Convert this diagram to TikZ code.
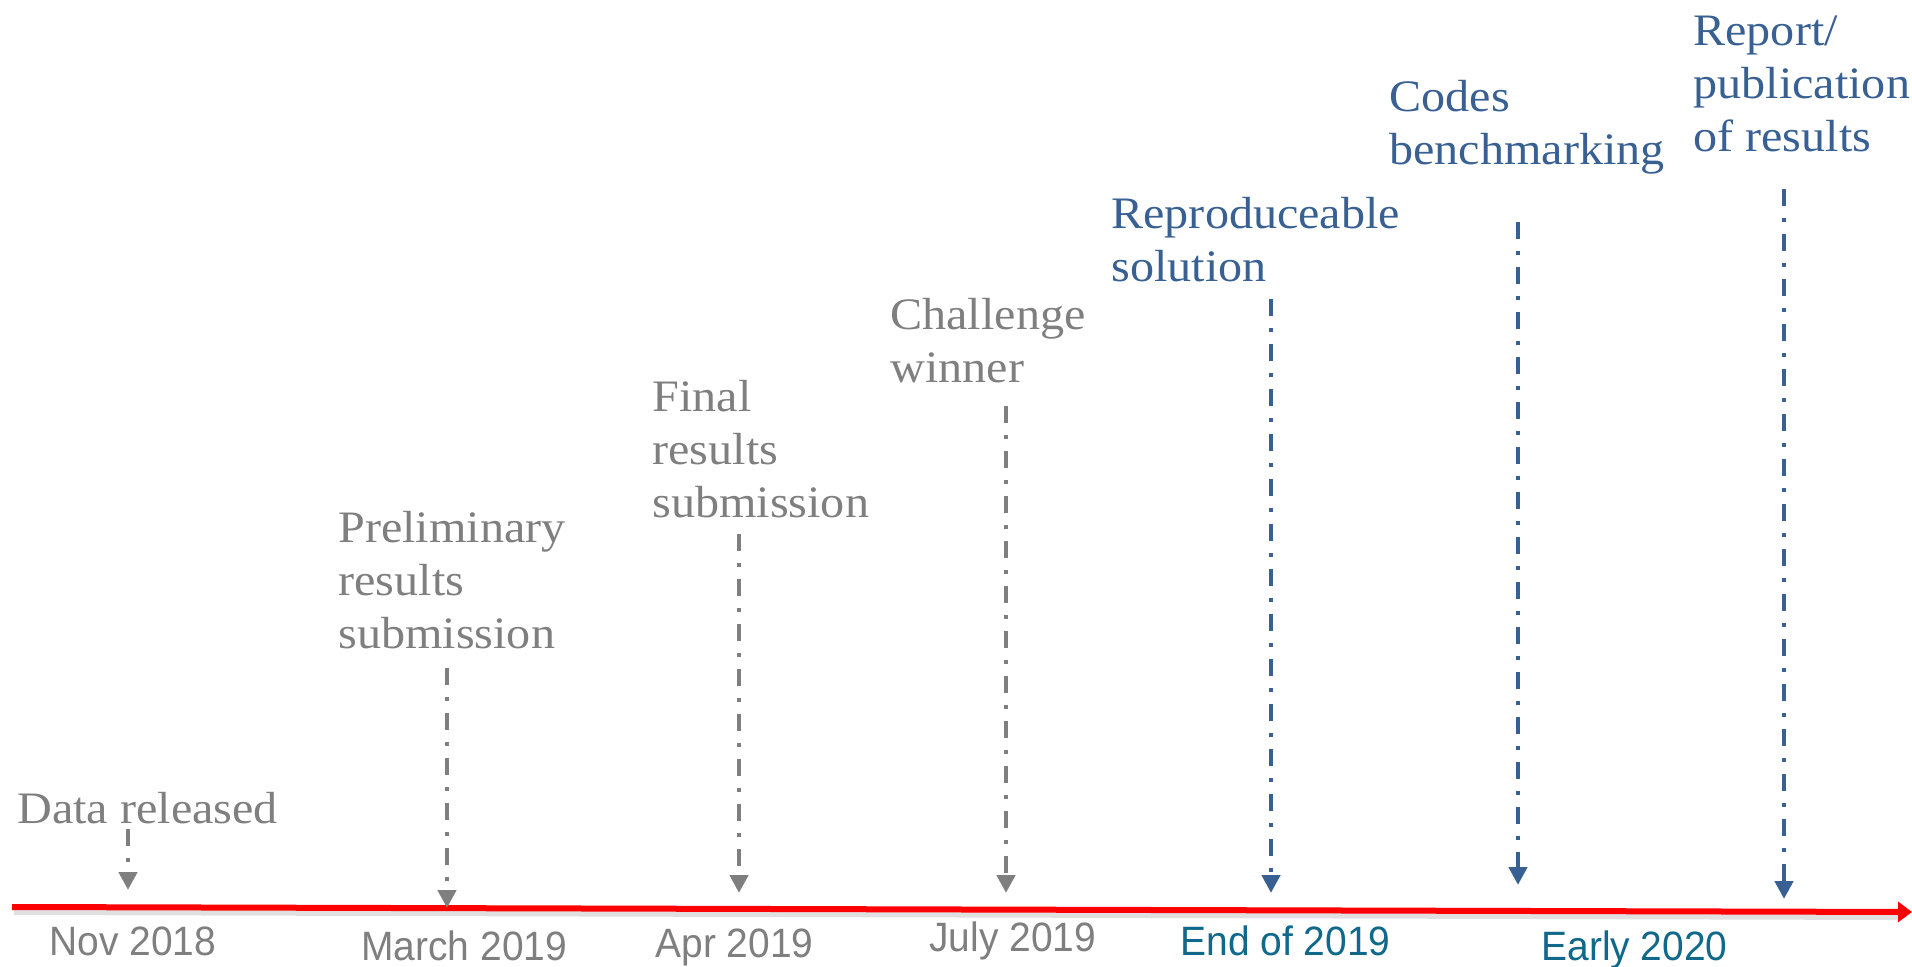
\documentclass[tikz,border=0pt]{standalone}
\usepackage{fontspec}
\setmainfont{Liberation Serif}
\newfontfamily\eventfont[FakeStretch=1.07]{Liberation Serif}
\newfontfamily\datefont[FakeStretch=0.95]{Liberation Sans}
\usetikzlibrary{arrows.meta}

\definecolor{milegrey}{RGB}{127,127,127}
\definecolor{mileblue}{RGB}{56,96,146}
\definecolor{dateteal}{RGB}{16,104,138}
\definecolor{axisred}{RGB}{255,0,0}

\begin{document}
\begin{tikzpicture}[x=0.5pt,y=-0.5pt,
  % multi-line labels are placed by the baseline of their last line
  event/.style={font=\eventfont\fontsize{22.5}{26.5}\selectfont, align=left,
                anchor=base west, inner sep=0pt},
  date/.style={font=\datefont\fontsize{20.5}{24}\selectfont,
               anchor=base west, inner sep=0pt},
  marker/.style={line width=2.4pt, dash pattern=on 8.5pt off 6.2pt on 2pt off 5.8pt,
                 -{Triangle[width=9pt,length=9pt]}},
  timeline/.style={line width=3pt, axisred, -{Triangle[width=10pt,length=7pt]}},
]
\useasboundingbox (0,0) rectangle (1912,967);

% time axis with a soft shadow
\coordinate (axL) at (12,907);
\coordinate (axR) at (1912,912);
\draw[line width=3pt, black, opacity=0.12] (14,912) -- (1900,917);
\draw[timeline] (axL) -- (axR);

% event labels
\node[event, text=milegrey] (data) at (17,823) {Data released};
\node[event, text=milegrey] (prelim) at (338,649) {Preliminary\\results\\submission};
\node[event, text=milegrey] (final) at (652,518) {Final\\results\\submission};
\node[event, text=milegrey] (winner) at (890,383) {Challenge\\winner};
\node[event, text=mileblue] (repro) at (1111,282) {Reproduceable\\solution};
\node[event, text=mileblue] (bench) at (1389,165) {Codes\\benchmarking};
\node[event, text=mileblue] (report) at (1693,152) {Report/\\publication\\of results};

% date labels
\node[date, text=milegrey] (d1) at (49,955) {Nov 2018};
\node[date, text=milegrey] (d2) at (361,960) {March 2019};
\node[date, text=milegrey] (d3) at (655,957) {Apr 2019};
\node[date, text=milegrey] (d4) at (929,951) {July 2019};
\node[date, text=dateteal] (d5) at (1180,955) {End of 2019};
\node[date, text=dateteal] (d6) at (1541,960) {Early 2020};

% marker arrows
\coordinate (s1) at (128,829);  \coordinate (e1) at (128,890);
\coordinate (s2) at (447,668);  \coordinate (e2) at (447,908);
\coordinate (s3) at (739,534);  \coordinate (e3) at (739,893);
\coordinate (s4) at (1006,406); \coordinate (e4) at (1006,893);
\coordinate (s5) at (1271,299); \coordinate (e5) at (1271,893);
\coordinate (s6) at (1518,222); \coordinate (e6) at (1518,885);
\coordinate (s7) at (1784,189); \coordinate (e7) at (1784,899);

\draw[marker, milegrey] (s1) -- (e1);
\draw[marker, milegrey] (s2) -- (e2);
\draw[marker, milegrey] (s3) -- (e3);
\draw[marker, milegrey] (s4) -- (e4);
\draw[marker, mileblue] (s5) -- (e5);
\draw[marker, mileblue] (s6) -- (e6);
\draw[marker, mileblue] (s7) -- (e7);
\end{tikzpicture}
\end{document}
